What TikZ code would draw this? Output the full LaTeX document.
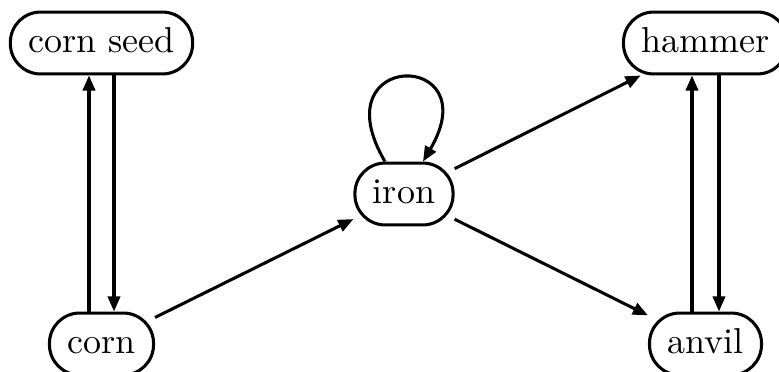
\documentclass[tikz,border=0pt]{standalone}
\usetikzlibrary{arrows.meta}
\begin{document}
\begin{tikzpicture}[x=0.2778pt,y=-0.2778pt,
  state/.style={draw,line width=0.85pt,rectangle,rounded corners=8.4pt,
    minimum height=17.2pt,inner xsep=5pt,inner ysep=0pt,
    text height=7pt,text depth=1.6pt},
  link/.style={line width=0.85pt,-{Triangle[length=4.2pt,width=3.4pt]}}]
  \useasboundingbox (0,0) rectangle (779,371);
  % states
  \node[state] (seed)   at (101.5,43)  {corn seed};
  \node[state] (corn)   at (101.5,344) {corn};
  \node[state] (iron)   at (404,194)   {iron};
  \node[state] (hammer) at (705.5,43)  {hammer};
  \node[state] (anvil)  at (705.5,344) {anvil};
  % paired vertical links
  \draw[link] ([xshift=-12.5*0.2778pt]corn.north) -- ([xshift=-12.5*0.2778pt]seed.south);
  \draw[link] ([xshift=12.5*0.2778pt]seed.south) -- ([xshift=12.5*0.2778pt]corn.north);
  \draw[link] ([xshift=-13.5*0.2778pt]anvil.north) -- ([xshift=-13.5*0.2778pt]hammer.south);
  \draw[link] ([xshift=13.5*0.2778pt]hammer.south) -- ([xshift=13.5*0.2778pt]anvil.north);
  % diagonal links
  \draw[link] (corn) -- (iron);
  \draw[link] (iron) -- (hammer);
  \draw[link] (iron) -- (anvil);
  % self loop on iron
  \draw[link] ([xshift=-19*0.2778pt]iron.north) .. controls +(-66,-112) and +(66,-112) .. ([xshift=19*0.2778pt]iron.north);
\end{tikzpicture}
\end{document}
